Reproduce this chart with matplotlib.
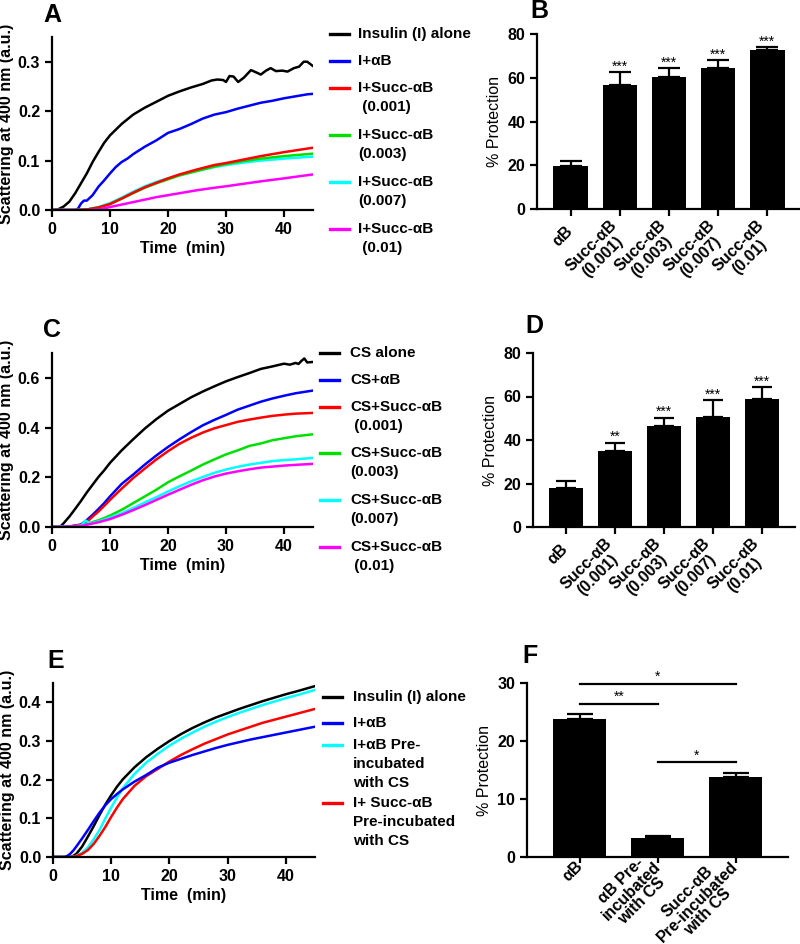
import matplotlib
matplotlib.use("Agg")
import matplotlib.pyplot as plt
from matplotlib.lines import Line2D
import numpy as np

plt.rcParams['font.family'] = ['Liberation Sans', 'DejaVu Sans']
plt.rcParams['font.weight'] = 'bold'
plt.rcParams['axes.labelweight'] = 'bold'

# ---------------- panel A : insulin aggregation ----------------
tA_black = [0, 1, 2, 3, 4, 5, 6, 7, 8, 9, 10, 12, 14, 16, 18, 20, 22, 24, 26,
            27.5, 28.5, 29.5, 30.0, 30.6, 31.3, 32.1, 33.1, 34.3, 35.1, 36.0,
            36.9, 37.7, 38.6, 39.7, 40.6, 41.7, 42.6, 43.4, 44.0, 44.9]
A_black = [0, 0.001, 0.007, 0.017, 0.034, 0.054, 0.074, 0.097, 0.117, 0.136,
           0.151, 0.174, 0.193, 0.207, 0.219, 0.231, 0.240, 0.248, 0.255,
           0.262, 0.264, 0.263, 0.259, 0.271, 0.270, 0.259, 0.268, 0.283,
           0.279, 0.274, 0.282, 0.287, 0.281, 0.282, 0.280, 0.287, 0.290,
           0.300, 0.300, 0.292]
tA_blue = [0, 4, 4.5, 5, 5.5, 6, 7, 8, 9, 10, 11, 12, 13, 14, 16, 18, 20, 22,
           24, 26, 28, 30, 32, 34, 36, 38, 40, 42, 44, 45]
A_blue = [0, 0, 0.003, 0.013, 0.019, 0.019, 0.030, 0.047, 0.060, 0.074, 0.087,
          0.097, 0.104, 0.113, 0.128, 0.141, 0.156, 0.164, 0.174, 0.185, 0.193,
          0.198, 0.205, 0.211, 0.217, 0.221, 0.226, 0.230, 0.234, 0.235]
tA = [0, 4, 6, 8, 10, 12, 14, 16, 18, 20, 22, 25, 28, 30, 33, 36, 40, 45]
A_red = [0, 0, 0.001, 0.005, 0.012, 0.023, 0.035, 0.046, 0.055, 0.064, 0.072,
         0.082, 0.091, 0.095, 0.102, 0.109, 0.117, 0.126]
A_green = [0, 0, 0.001, 0.005, 0.012, 0.023, 0.034, 0.045, 0.054, 0.062, 0.070,
           0.079, 0.088, 0.093, 0.099, 0.104, 0.109, 0.114]
A_cyan = [0, 0, 0.001, 0.006, 0.014, 0.025, 0.037, 0.048, 0.057, 0.064, 0.071,
          0.079, 0.087, 0.091, 0.096, 0.100, 0.104, 0.108]
A_magenta = [0, 0, 0, 0.001, 0.006, 0.011, 0.016, 0.021, 0.026, 0.030, 0.034,
             0.040, 0.045, 0.048, 0.053, 0.058, 0.064, 0.072]

# ---------------- panel C : citrate synthase aggregation ----------------
tC_black = [0, 1, 1.5, 2, 3, 4, 5, 6, 7, 8, 9, 10, 12, 14, 16, 18, 20, 22, 24,
            26, 28, 30, 32, 34, 36, 38, 40, 41, 42, 42.5, 43, 43.5, 44, 45]
C_black = [0, 0, 0.003, 0.015, 0.042, 0.073, 0.105, 0.139, 0.170, 0.201, 0.228,
           0.258, 0.308, 0.353, 0.396, 0.434, 0.468, 0.495, 0.522, 0.545, 0.566,
           0.586, 0.603, 0.619, 0.636, 0.646, 0.657, 0.653, 0.660, 0.656, 0.668,
           0.678, 0.662, 0.664]
tC = [0, 3, 5, 6, 7, 8, 9, 10, 12, 14, 16, 18, 20, 22, 24, 26, 28, 30, 32, 34,
      36, 38, 40, 42, 45]
C_blue = [0, 0.002, 0.010, 0.028, 0.049, 0.072, 0.096, 0.123, 0.173, 0.211,
          0.251, 0.288, 0.322, 0.353, 0.382, 0.409, 0.431, 0.451, 0.472, 0.488,
          0.504, 0.517, 0.528, 0.538, 0.549]
C_red = [0, 0.002, 0.008, 0.020, 0.042, 0.062, 0.085, 0.109, 0.154, 0.197,
         0.235, 0.272, 0.305, 0.335, 0.359, 0.380, 0.397, 0.410, 0.423, 0.432,
         0.440, 0.447, 0.452, 0.456, 0.459]
C_green = [0, 0.002, 0.005, 0.013, 0.020, 0.027, 0.036, 0.046, 0.069, 0.096,
           0.123, 0.150, 0.180, 0.204, 0.227, 0.251, 0.272, 0.292, 0.308, 0.326,
           0.336, 0.349, 0.357, 0.365, 0.373]
tC_cyan = [0, 3, 5, 5.8, 6.5, 8, 10, 12, 14, 16, 18, 20, 22, 24, 26, 28, 30, 32,
           34, 36, 38, 40, 42, 45]
C_cyan = [0, 0.002, 0.005, 0.026, 0.015, 0.022, 0.038, 0.055, 0.076, 0.099,
          0.120, 0.143, 0.164, 0.184, 0.201, 0.218, 0.231, 0.242, 0.251, 0.258,
          0.265, 0.269, 0.272, 0.278]
tC_mag = [0, 3, 5, 8, 10, 12, 14, 16, 18, 20, 22, 24, 26, 28, 30, 32, 34, 36, 38,
          40, 42, 45]
C_magenta = [0, 0.002, 0.004, 0.019, 0.032, 0.049, 0.068, 0.088, 0.109, 0.130,
             0.150, 0.170, 0.188, 0.203, 0.215, 0.224, 0.232, 0.239, 0.243,
             0.247, 0.250, 0.254]

# ---------------- panel E : pre-incubated chaperones ----------------
tE = [0, 2, 2.5, 3, 3.5, 4, 5, 6, 7, 8, 9, 10, 11, 12, 14, 16, 18, 20, 22, 24,
      26, 28, 30, 32, 34, 36, 38, 40, 42, 45]
E_black = [0, 0, 0, 0, 0.003, 0.008, 0.027, 0.053, 0.080, 0.109, 0.136, 0.160,
           0.182, 0.201, 0.232, 0.258, 0.280, 0.300, 0.318, 0.334, 0.348, 0.361,
           0.372, 0.383, 0.393, 0.403, 0.412, 0.421, 0.429, 0.442]
E_blue = [0, 0, 0.003, 0.009, 0.017, 0.027, 0.048, 0.070, 0.093, 0.115, 0.134,
          0.150, 0.163, 0.175, 0.195, 0.212, 0.231, 0.244, 0.254, 0.264, 0.273,
          0.282, 0.290, 0.297, 0.304, 0.310, 0.316, 0.322, 0.328, 0.337]
E_cyan = [0, 0, 0, 0, 0.001, 0.003, 0.011, 0.025, 0.046, 0.070, 0.100, 0.128,
          0.154, 0.178, 0.215, 0.244, 0.267, 0.288, 0.306, 0.322, 0.337, 0.350,
          0.362, 0.373, 0.383, 0.393, 0.402, 0.411, 0.419, 0.432]
E_red = [0, 0, 0, 0, 0.001, 0.002, 0.008, 0.018, 0.034, 0.055, 0.078, 0.104,
         0.128, 0.150, 0.184, 0.209, 0.228, 0.247, 0.264, 0.279, 0.293, 0.305,
         0.317, 0.327, 0.337, 0.347, 0.355, 0.363, 0.371, 0.383]

# ---------------- bar panels ----------------
bar_labels = ['αB', 'Succ-αB\n(0.001)', 'Succ-αB\n(0.003)', 'Succ-αB\n(0.007)',
              'Succ-αB\n(0.01)']
B_mean = [19.8, 56.5, 60.3, 64.6, 72.8]
B_sem = [2.3, 6.0, 4.2, 3.4, 1.1]
B_stars = ['', '***', '***', '***', '***']
D_mean = [18.0, 35.0, 46.3, 50.4, 59.0]
D_sem = [3.1, 3.8, 4.0, 8.0, 5.4]
D_stars = ['', '**', '***', '***', '***']
F_labels = ['αB', 'αB Pre-\nincubated\nwith CS', 'Succ-αB\nPre-incubated\nwith CS']
F_mean = [23.8, 3.3, 13.8]
F_sem = [0.8, 0.3, 0.6]
F_pairs = [(0, 2), (0, 1), (1, 2)]
F_pair_y = [29.9, 26.4, 16.3]
F_pair_stars = ['*', '**', '*']

legA = ['Insulin (I) alone', 'I+αB', 'I+Succ-αB\n (0.001)', 'I+Succ-αB\n(0.003)',
        'I+Succ-αB\n(0.007)', 'I+Succ-αB\n (0.01)']
legC = ['CS alone', 'CS+αB', 'CS+Succ-αB\n (0.001)', 'CS+Succ-αB\n(0.003)',
        'CS+Succ-αB\n(0.007)', 'CS+Succ-αB\n (0.01)']
legE = ['Insulin (I) alone', 'I+αB', 'I+αB Pre-\nincubated\nwith CS',
        'I+ Succ-αB\nPre-incubated\nwith CS']
six_colors = ['black', '#0000ff', '#ff0000', '#00e000', '#00ffff', '#ff00ff']
E_colors = ['black', '#0000ff', '#00ffff', '#ff0000']

W, H = 800, 944
fig = plt.figure(figsize=(W / 100, H / 100), dpi=100)


def px_axes(left, top, right, bottom):
    return fig.add_axes([left / W, 1 - bottom / H, (right - left) / W, (bottom - top) / H])


def style(ax):
    ax.spines[['top', 'right']].set_visible(False)
    ax.spines[['left', 'bottom']].set_linewidth(1.6)
    ax.tick_params(width=1.6, length=5, labelsize=11.5)


def line_panel(ax, curves, ylim, yticks):
    for t, y, c in curves:
        ax.plot(t, y, color=c, lw=1.8)
    ax.set_xlim(0, 45)
    ax.set_ylim(*ylim)
    ax.set_xticks([0, 10, 20, 30, 40])
    ax.set_yticks(yticks, [f'{v:.1f}' for v in yticks])
    ax.set_xlabel('Time  (min)', fontsize=11.5, labelpad=3)
    ax.set_ylabel('Scattering at 400 nm (a.u.)', fontsize=11.5, labelpad=3)
    style(ax)


def bar_panel(ax, labels, means, sems, stars, width, capsize, xlim, ylim, yticks,
              fs, lsp=1.1, pad=9, tick_len=5):
    x = np.arange(len(means))
    ax.bar(x, means, width=width, color='black')
    ax.errorbar(x, means, yerr=[np.zeros(len(sems)), sems], fmt='none',
                ecolor='black', elinewidth=1.6, capsize=capsize, capthick=1.6)
    for xi, m, e, s in zip(x, means, sems, stars):
        if s:
            ax.annotate(s, (xi, m + e), xytext=(0, -1), textcoords='offset points',
                        ha='center', va='bottom', fontsize=10, fontweight='normal')
    ax.set_xlim(*xlim)
    ax.set_ylim(*ylim)
    ax.set_yticks(yticks)
    ax.set_xticks(x, labels, rotation=45, ha='right', va='center',
                  rotation_mode='anchor', fontsize=fs)
    for lbl in ax.get_xticklabels():
        lbl.set_multialignment('center')
        lbl.set_linespacing(lsp)
    ax.set_ylabel('% Protection', fontsize=11.5, fontweight='normal', labelpad=4)
    style(ax)
    ax.tick_params(axis='x', pad=pad, length=tick_len)


def legend_rows(labels, colors, x_line, x_text, ys):
    for lab, c, y in zip(labels, colors, ys):
        yf = 1 - y / H
        fig.add_artist(Line2D([x_line / W, (x_line + 19) / W], [yf, yf], color=c,
                              lw=2.4, transform=fig.transFigure))
        fig.text(x_text / W, 1 - (y - 7) / H, lab, ha='left', va='top', fontsize=11,
                 linespacing=1.45)


# A
axA = px_axes(52, 37, 313, 210)
line_panel(axA, [(tA_black, A_black, six_colors[0]), (tA_blue, A_blue, six_colors[1]),
                 (tA, A_cyan, six_colors[4]), (tA, A_green, six_colors[3]),
                 (tA, A_red, six_colors[2]), (tA, A_magenta, six_colors[5])],
           (0, 0.35), [0.0, 0.1, 0.2, 0.3])
legend_rows(legA, six_colors, 330, 358, [34, 61, 88, 135, 182, 229])

# B
axB = px_axes(537, 34, 800, 209)
bar_panel(axB, bar_labels, B_mean, B_sem, B_stars, 0.71, 8, (-0.69, 4.67),
          (0, 80), [0, 20, 40, 60, 80], 11.5)

# C
axC = px_axes(52, 353, 313, 527)
line_panel(axC, [(tC_black, C_black, six_colors[0]), (tC, C_blue, six_colors[1]),
                 (tC, C_red, six_colors[2]), (tC, C_green, six_colors[3]),
                 (tC_cyan, C_cyan, six_colors[4]), (tC_mag, C_magenta, six_colors[5])],
           (0, 0.7), [0.0, 0.2, 0.4, 0.6])
legend_rows(legC, six_colors, 320, 350, [353, 380, 407, 453, 500, 547])

# D
axD = px_axes(533, 353, 795, 527)
bar_panel(axD, bar_labels, D_mean, D_sem, D_stars, 0.69, 7, (-0.67, 4.67),
          (0, 80), [0, 20, 40, 60, 80], 11.5)

# E
axE = px_axes(53, 683, 315, 857)
line_panel(axE, [(tE, E_black, E_colors[0]), (tE, E_cyan, E_colors[2]),
                 (tE, E_red, E_colors[3]), (tE, E_blue, E_colors[1])],
           (0, 0.45), [0.0, 0.1, 0.2, 0.3, 0.4])
legend_rows(legE, E_colors, 323, 353, [697, 723, 745, 803])

# F
axF = px_axes(527, 683, 788, 857)
bar_panel(axF, F_labels, F_mean, F_sem, ['', '', ''], 0.68, 9.5, (-0.68, 2.67),
          (0, 30), [0, 10, 20, 30], 8.5, lsp=0.95, pad=1, tick_len=4)
for (i, j), yv, s in zip(F_pairs, F_pair_y, F_pair_stars):
    axF.plot([i, j], [yv, yv], color='black', lw=1.6, clip_on=False)
    axF.annotate(s, ((i + j) / 2, yv), xytext=(0, 0), textcoords='offset points',
                 ha='center', va='bottom', fontsize=10, fontweight='normal',
                 annotation_clip=False)

# panel letters
for letter, x, y in [('A', 43, 22), ('B', 530, 18), ('C', 43, 337),
                     ('D', 525, 333), ('E', 47, 668), ('F', 522, 663)]:
    fig.text(x / W, 1 - y / H, letter, fontsize=18, fontweight='bold', va='baseline')

fig.savefig('out.png', dpi=100)
